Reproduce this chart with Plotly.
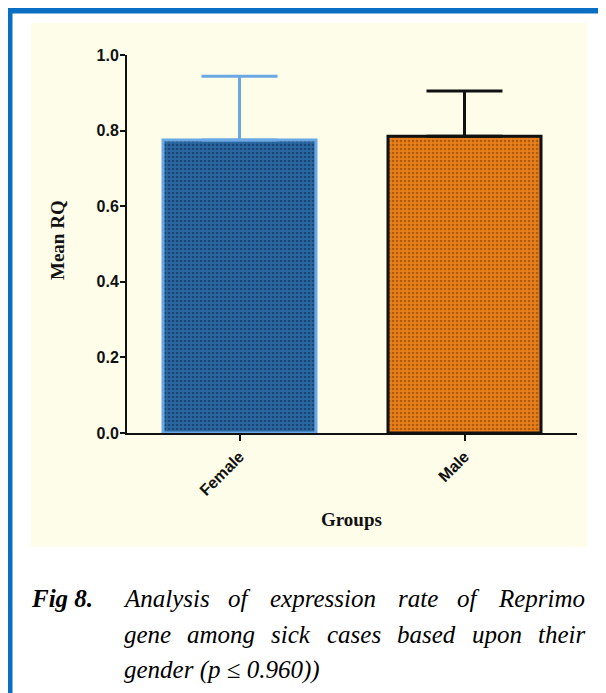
import plotly.graph_objects as go

# ---------------- data ----------------
groups = ["Female", "Male"]
mean_rq = [0.775, 0.785]
err_up = [0.169, 0.120]
y_ticks = [0.0, 0.2, 0.4, 0.6, 0.8, 1.0]
y_tick_labels = ["0.0", "0.2", "0.4", "0.6", "0.8", "1.0"]
caption_label = "Fig 8."
caption_lines = [
    "Analysis of expression rate of Reprimo",
    "gene among sick cases based upon their",
    "gender (p \u2264 0.960))",
]

# ---------------- layout helpers ----------------
# page body has an 8px default margin, so the figure is offset by OFF pixels
OFF = 8
W, H = 606 - OFF, 693 - OFF
PLOT_L, PLOT_R, PLOT_T, PLOT_B = 127, 577, 55, 433   # screen coordinates
ML, MR = PLOT_L - OFF, W - (PLOT_R - OFF)
MT, MB = PLOT_T - OFF, H - (PLOT_B - OFF)
PW, PH = PLOT_R - PLOT_L, PLOT_B - PLOT_T


def px(x):
    return (x - PLOT_L) / PW


def py(y):
    return (PLOT_B - y) / PH


# approximate Times New Roman Italic advance widths (em)
TW = {' ': .25, 'a': .5, 'b': .5, 'c': .444, 'd': .5, 'e': .444, 'f': .278, 'g': .5,
      'h': .5, 'i': .278, 'j': .278, 'k': .444, 'l': .278, 'm': .722, 'n': .5,
      'o': .5, 'p': .5, 'q': .5, 'r': .389, 's': .389, 't': .278, 'u': .5, 'v': .444,
      'w': .667, 'x': .444, 'y': .444, 'z': .389, 'A': .611, 'R': .611}


def tw(word, size):
    return sum(TW.get(c, .5) for c in word) * size


fig = go.Figure()

bar_styles = [
    dict(bg="#2A68A2", fg="#1A4575", line="#6AA8E4", ecol="#6AA8E4"),
    dict(bg="#E8801C", fg="#B05A0C", line="#111111", ecol="#111111"),
]
for g, m, e, st in zip(groups, mean_rq, err_up, bar_styles):
    fig.add_trace(go.Bar(
        x=[g], y=[m], width=0.68,
        marker=dict(
            color=st["bg"],
            line=dict(color=st["line"], width=3),
            pattern=dict(shape=".", bgcolor=st["bg"], fgcolor=st["fg"],
                         size=4, solidity=0.35, fillmode="replace"),
        ),
        error_y=dict(type="data", array=[e], arrayminus=[0], symmetric=False,
                     color=st["ecol"], thickness=3, width=38),
        showlegend=False,
    ))

FRAME = "#0A6FC2"
shapes = [
    # yellow chart background
    dict(type="rect", xref="paper", yref="paper", x0=px(31), x1=px(587),
         y0=py(547), y1=py(23), fillcolor="#FEFDE9", line=dict(width=0), layer="below"),
    # blue frame
    dict(type="rect", xref="paper", yref="paper", x0=px(OFF), x1=px(607),
         y0=py(13.5), y1=py(OFF), fillcolor=FRAME, line=dict(width=0), layer="above"),
    dict(type="rect", xref="paper", yref="paper", x0=px(OFF), x1=px(12.5),
         y0=py(694), y1=py(OFF), fillcolor=FRAME, line=dict(width=0), layer="above"),
    dict(type="rect", xref="paper", yref="paper", x0=px(604.5), x1=px(606),
         y0=py(694), y1=py(OFF), fillcolor="#5A8FD2", line=dict(width=0), layer="above"),
]

annotations = [
    dict(text="<b>Mean RQ</b>", xref="paper", yref="paper", x=px(57), y=py(240),
         textangle=-90, showarrow=False, xanchor="center", yanchor="middle",
         font=dict(family="Liberation Serif", size=19, color="#111111")),
    dict(text="<b>Groups</b>", xref="paper", yref="paper", x=px(351), y=py(519),
         showarrow=False, xanchor="center", yanchor="middle",
         font=dict(family="Liberation Serif", size=19, color="#111111")),
    dict(text="<b><i>" + caption_label + "</i></b>", xref="paper", yref="paper",
         x=px(29), y=py(598), showarrow=False, xanchor="left", yanchor="middle",
         font=dict(family="Liberation Serif", size=25, color="#000000")),
]

CAP_SIZE = 25
left_x, right_x = 124, 585
line_y = [598, 634, 670]
for i, line in enumerate(caption_lines):
    words = line.split(" ")
    if i < len(caption_lines) - 1:
        widths = [tw(w, CAP_SIZE) for w in words]
        gap = (right_x - left_x - sum(widths)) / (len(words) - 1)
        x = left_x
        for w, wd in zip(words, widths):
            annotations.append(dict(
                text="<i>" + w + "</i>", xref="paper", yref="paper",
                x=px(x + wd / 2), y=py(line_y[i]), showarrow=False,
                xanchor="center", yanchor="middle",
                font=dict(family="Liberation Serif", size=CAP_SIZE, color="#000000")))
            x += wd + gap
    else:
        annotations.append(dict(
            text="<i>" + line + "</i>", xref="paper", yref="paper",
            x=px(left_x - 2), y=py(line_y[i]), showarrow=False,
            xanchor="left", yanchor="middle",
            font=dict(family="Liberation Serif", size=CAP_SIZE, color="#000000")))

TICKFONT = dict(family="Arial, Liberation Sans", size=16, color="#111111", weight="bold")
fig.update_layout(
    width=W, height=H,
    margin=dict(l=ML, r=MR, t=MT, b=MB, autoexpand=False),
    paper_bgcolor="white", plot_bgcolor="rgba(0,0,0,0)",
    barmode="overlay",
    shapes=shapes, annotations=annotations,
    xaxis=dict(type="category", range=[-0.5, 1.5], showline=True, linecolor="#111111",
               linewidth=2, ticks="outside", ticklen=6, tickwidth=2, tickcolor="#111111",
               tickangle=-45, showgrid=False, zeroline=False, tickfont=TICKFONT),
    yaxis=dict(range=[0, 1.0], tickvals=y_ticks, ticktext=y_tick_labels, showline=True,
               linecolor="#111111", linewidth=2, ticks="outside", ticklen=5, tickwidth=2,
               tickcolor="#111111", showgrid=False, zeroline=False, tickfont=TICKFONT,
               ticklabelstandoff=-2),
)

fig.write_html("out.html")
